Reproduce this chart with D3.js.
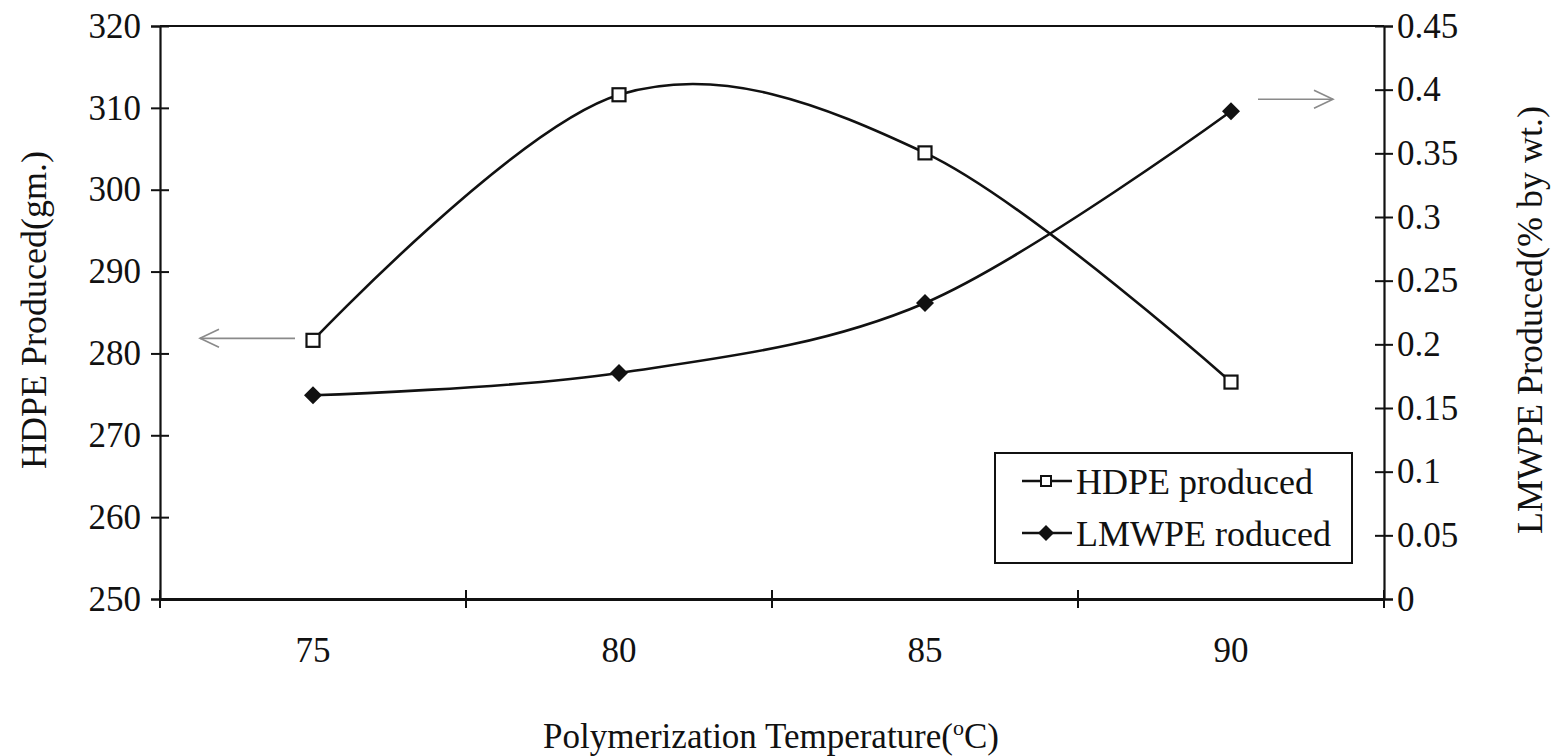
<!DOCTYPE html>
<html><head><meta charset="utf-8">
<script src="https://cdn.jsdelivr.net/npm/d3@7"></script>
<style>
html,body{margin:0;padding:0;background:#fff;}
</style></head>
<body><svg id="c" width="1553" height="756"></svg>
<script>
const categories = ["75","80","85","90"];
const hdpe = [281.6, 311.6, 304.5, 276.5];
const lmwpe = [0.160, 0.1775, 0.2325, 0.383];
const leftTicks = [250,260,270,280,290,300,310,320];
const rightTicks = [0,0.05,0.1,0.15,0.2,0.25,0.3,0.35,0.4,0.45];
const seriesNames = ["HDPE produced","LMWPE roduced"];

const FONT = '"Liberation Serif"';
const svg = d3.select("#c").attr("font-family",FONT);
const L=160, R=1384, T=26, B=599;
const x = d3.scaleBand().domain(categories).range([L,R]).padding(0);
const yL = d3.scaleLinear().domain([250,320]).range([B,T]);
const yR = d3.scaleLinear().domain([0,0.45]).range([B,T]);
const ink="#111";

svg.append("line").attr("x1",L).attr("x2",R).attr("y1",T).attr("y2",T).attr("stroke",ink).attr("stroke-width",2);

const gL = svg.append("g").attr("transform",`translate(${L},0)`)
  .call(d3.axisLeft(yL).tickValues(leftTicks).tickSize(9).tickFormat(d3.format("d")));
gL.attr("font-family",FONT);
gL.select(".domain").attr("stroke",ink).attr("stroke-width",2.2);
gL.selectAll(".tick line").attr("x1",-9).attr("x2",9).attr("stroke",ink).attr("stroke-width",2);
gL.selectAll(".tick text").attr("font-size",35).attr("x",-19).attr("fill",ink);

const gR = svg.append("g").attr("transform",`translate(${R},0)`)
  .call(d3.axisRight(yR).tickValues(rightTicks).tickSize(9).tickFormat(d=>String(+d.toFixed(2))));
gR.attr("font-family",FONT);
gR.select(".domain").attr("stroke",ink).attr("stroke-width",2.2);
gR.selectAll(".tick line").attr("x1",-9).attr("x2",9).attr("stroke",ink).attr("stroke-width",2);
gR.selectAll(".tick text").attr("font-size",35).attr("x",13).attr("fill",ink);

const gB = svg.append("g").attr("transform",`translate(0,${B})`)
  .call(d3.axisBottom(x).tickSize(0));
gB.attr("font-family",FONT);
gB.select(".domain").attr("stroke",ink).attr("stroke-width",3);
gB.selectAll(".tick text").attr("font-size",35).attr("y",38).attr("fill",ink);
const bounds = categories.map(c=>x(c)).concat([R]);
svg.append("g").selectAll("line").data(bounds).join("line")
  .attr("x1",d=>d).attr("x2",d=>d).attr("y1",B-9).attr("y2",B+9)
  .attr("stroke",ink).attr("stroke-width",2);

const cx = c => x(c)+x.bandwidth()/2;
const line = d3.line().curve(d3.curveCardinal.tension(0));

svg.append("path").attr("d",line(categories.map((c,i)=>[cx(c),yL(hdpe[i])])))
  .attr("fill","none").attr("stroke",ink).attr("stroke-width",2.6);
svg.append("path").attr("d",line(categories.map((c,i)=>[cx(c),yR(lmwpe[i])])))
  .attr("fill","none").attr("stroke",ink).attr("stroke-width",2.6);

const sq=13, dm=9;
svg.append("g").selectAll("rect").data(categories).join("rect")
  .attr("x",(c)=>cx(c)-sq/2).attr("y",(c,i)=>yL(hdpe[i])-sq/2).attr("width",sq).attr("height",sq)
  .attr("fill","#fff").attr("stroke",ink).attr("stroke-width",2.2);
const diamond = (px,py,r)=>`M${px},${py-r}L${px+r},${py}L${px},${py+r}L${px-r},${py}Z`;
svg.append("g").selectAll("path").data(categories).join("path")
  .attr("d",(c,i)=>diamond(cx(c),yR(lmwpe[i]),dm)).attr("fill",ink);

const gray="#8a8a8a";
function arrow(x1,x2,y){
  const dir = x2>x1?1:-1;
  svg.append("line").attr("x1",x1).attr("x2",x2).attr("y1",y).attr("y2",y).attr("stroke",gray).attr("stroke-width",1.6);
  svg.append("path").attr("d",`M${x2-dir*19},${y-9}L${x2},${y}L${x2-dir*19},${y+9}`)
    .attr("fill","none").attr("stroke",gray).attr("stroke-width",1.6);
}
arrow(cx("75")-18, 200, yL(hdpe[0])-2);
arrow(1258, 1333, yR(lmwpe[3])-12);

const lg = svg.append("g");
lg.append("rect").attr("x",995).attr("y",453).attr("width",357).attr("height",110)
  .attr("fill","#fff").attr("stroke",ink).attr("stroke-width",2);
const rows=[481,533];
rows.forEach((ry,i)=>{
  lg.append("line").attr("x1",1022).attr("x2",1072).attr("y1",ry).attr("y2",ry).attr("stroke",ink).attr("stroke-width",2.4);
  if(i===0) lg.append("rect").attr("x",1041).attr("y",ry-5).attr("width",10).attr("height",10).attr("fill","#fff").attr("stroke",ink).attr("stroke-width",2);
  else lg.append("path").attr("d",diamond(1046,ry,8)).attr("fill",ink);
  lg.append("text").attr("x",1076).attr("y",ry).attr("dy","0.35em").attr("font-size",36).attr("fill",ink).text(seriesNames[i]);
});

svg.append("text").attr("transform","translate(46,310) rotate(-90)").attr("text-anchor","middle")
  .attr("font-size",36).attr("fill",ink).text("HDPE Produced(gm.)");
svg.append("text").attr("transform","translate(1542,320) rotate(-90)").attr("text-anchor","middle")
  .attr("font-size",36).attr("fill",ink).text("LMWPE Produced(% by wt.)");
const xt = svg.append("text").attr("x",771).attr("y",748).attr("text-anchor","middle").attr("font-size",35).attr("fill",ink);
xt.append("tspan").text("Polymerization Temperature(");
xt.append("tspan").attr("font-size",22).attr("dy",-13).text("o");
xt.append("tspan").attr("dy",13).text("C)");
</script></body></html>
